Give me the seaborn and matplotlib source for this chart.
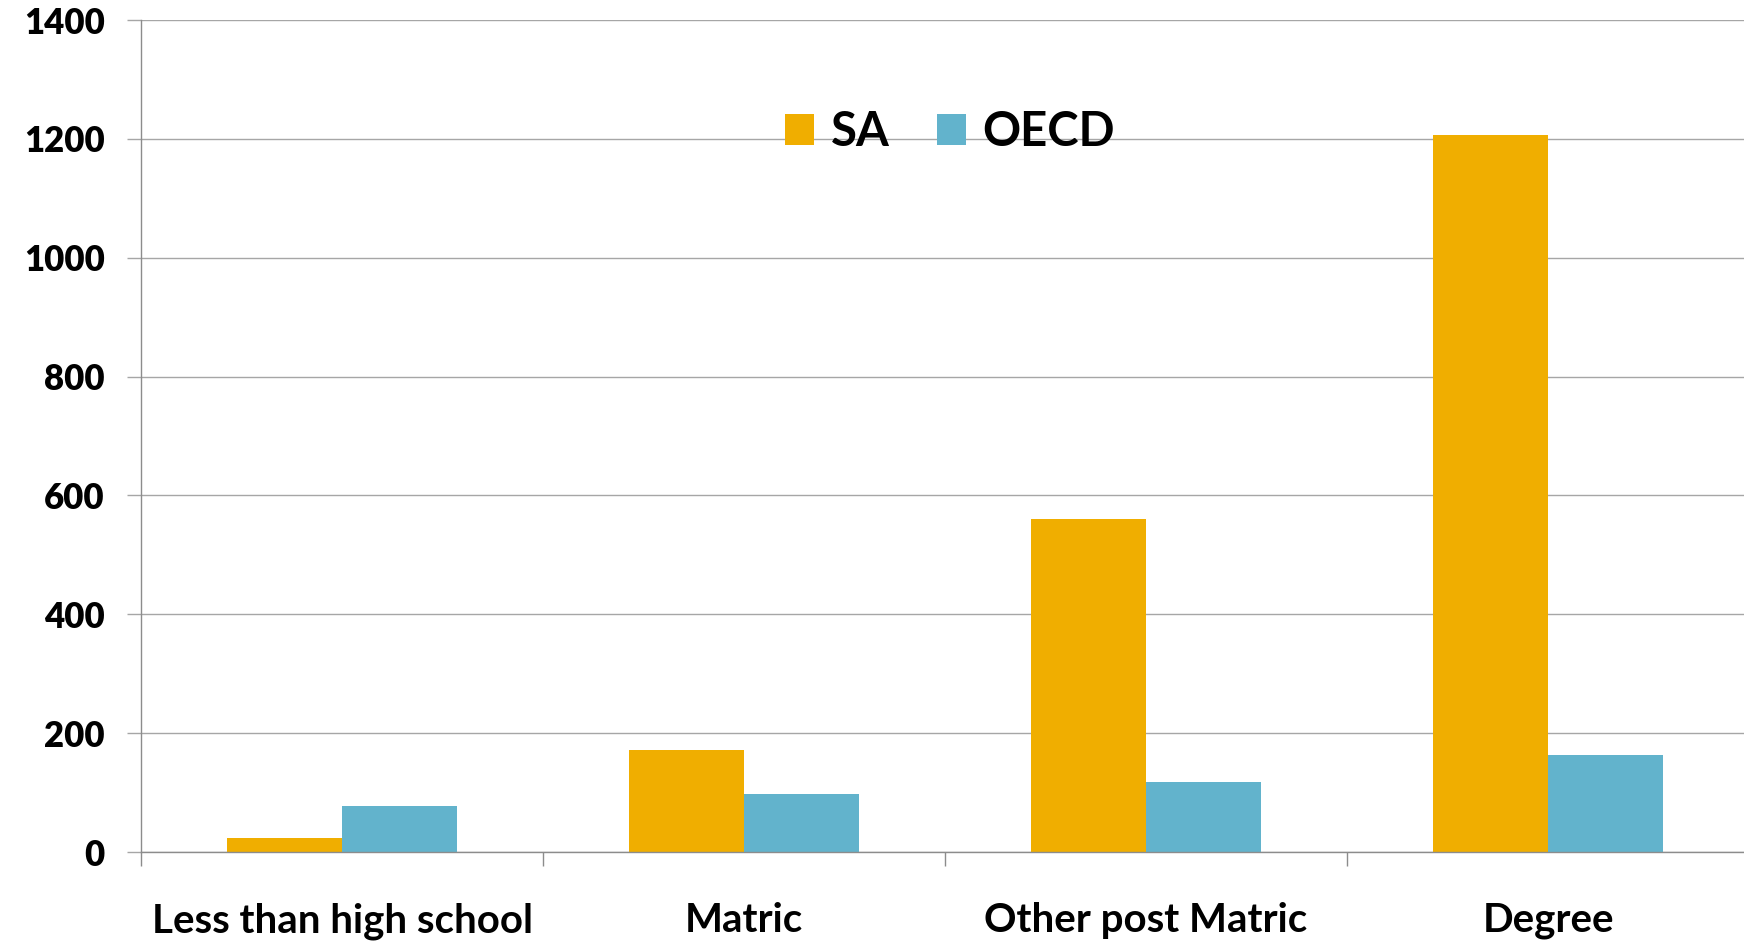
import pandas as pd
import numpy as np
import matplotlib.pyplot as plt
import seaborn as sns
from matplotlib.patches import Patch
from matplotlib.ticker import FixedLocator

# --- data ---
categories = ['Less than high school', 'Matric', 'Other post Matric', 'Degree']
series = ['SA', 'OECD']
sa_values = [24, 171, 560, 1207]
oecd_values = [77, 97, 117, 164]
y_ticks = [0, 200, 400, 600, 800, 1000, 1200, 1400]
colors = ['#F0AE00', '#62B3CC']

df = pd.DataFrame({
    'category': categories * 2,
    'series': ['SA'] * len(categories) + ['OECD'] * len(categories),
    'value': sa_values + oecd_values,
})

sns.set_style('white')
plt.rcParams['font.family'] = ['Lato', 'DejaVu Sans']
plt.rcParams['text.color'] = 'black'
plt.rcParams['xtick.color'] = 'black'
plt.rcParams['ytick.color'] = 'black'

fig = plt.figure(figsize=(17.44, 9.42), dpi=100)
ax = fig.add_axes([141 / 1744, 1 - 852 / 942, 1608 / 1744, 832 / 942])

sns.barplot(data=df, x='category', y='value', hue='series', order=categories,
            hue_order=series, palette=colors, width=0.57, gap=0, saturation=1,
            edgecolor='none', linewidth=0, ax=ax, legend=False)

ax.set_xlim(-0.5, 3.5)
ax.set_ylim(0, 1400)
ax.set_yticks(y_ticks)
ax.set_yticklabels([str(t) for t in y_ticks], fontsize=25, fontweight='heavy')
ax.yaxis.grid(True, color='#A6A6A6', linewidth=1.0)
ax.set_axisbelow(True)

ax.set_xlabel('')
ax.set_ylabel('')
ax.set_xticks(range(len(categories)))
ax.set_xticklabels(categories, fontsize=29, fontweight='bold')
ax.xaxis.set_minor_locator(FixedLocator([-0.5, 0.5, 1.5, 2.5, 3.5]))
ax.tick_params(axis='x', which='major', length=0, pad=36, labelcolor='black')
ax.tick_params(axis='x', which='minor', length=10, width=1.0, color='#8C8C8C', bottom=True)
ax.tick_params(axis='y', length=10, width=1.0, color='#A6A6A6', pad=16, left=True,
               labelcolor='black')

for side in ['top', 'right']:
    ax.spines[side].set_visible(False)
for side in ['left', 'bottom']:
    ax.spines[side].set_color('#8C8C8C')
    ax.spines[side].set_linewidth(1.0)

handles = [Patch(facecolor=c, edgecolor='none', label=s) for s, c in zip(series, colors)]
fig.legend(handles=handles, loc='center', bbox_to_anchor=(950 / 1744, 1 - 132 / 942),
           ncol=2, frameon=False, prop={'size': 34, 'weight': 'bold'},
           handlelength=0.62, handleheight=0.62, handletextpad=0.35, columnspacing=1.0)

plt.savefig('out.png', dpi=100)
